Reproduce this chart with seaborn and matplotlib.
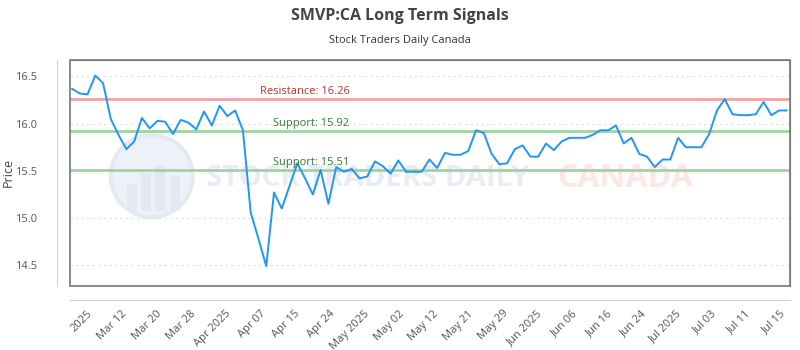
import numpy as np
import pandas as pd
import seaborn as sns
import matplotlib.pyplot as plt
from matplotlib.patches import Rectangle, Ellipse

# price, one value per trading day
price = [16.37, 16.32, 16.31, 16.51, 16.43, 16.05, 15.88, 15.73, 15.81, 16.06,
         15.95, 16.03, 16.02, 15.89, 16.04, 16.01, 15.94, 16.13, 15.98, 16.19,
         16.08, 16.14, 15.93, 15.06, 14.78, 14.49, 15.27, 15.10, 15.34, 15.58,
         15.42, 15.25, 15.51, 15.15, 15.54, 15.49, 15.52, 15.42, 15.44, 15.60,
         15.55, 15.47, 15.61, 15.49, 15.49, 15.49, 15.62, 15.53, 15.69, 15.67,
         15.67, 15.71, 15.93, 15.90, 15.68, 15.57, 15.58, 15.73, 15.77, 15.65,
         15.65, 15.79, 15.72, 15.81, 15.85, 15.85, 15.85, 15.88, 15.93, 15.93,
         15.98, 15.79, 15.85, 15.68, 15.65, 15.54, 15.62, 15.62, 15.85, 15.75,
         15.75, 15.75, 15.89, 16.14, 16.26, 16.10, 16.09, 16.09, 16.10, 16.23,
         16.09, 16.14, 16.14]

tick_labels = ['2025', 'Mar 12', 'Mar 20', 'Mar 28', 'Apr 2025', 'Apr 07', 'Apr 15',
               'Apr 24', 'May 2025', 'May 02', 'May 12', 'May 21', 'May 29', 'Jun 2025',
               'Jun 06', 'Jun 16', 'Jun 24', 'Jul 2025', 'Jul 03', 'Jul 11', 'Jul 15']

resistance = 16.26
supports = [15.92, 15.51]

df = pd.DataFrame({'day': np.arange(len(price)), 'price': price})

sns.set_style('white')
plt.rcParams['font.family'] = ['Open Sans', 'DejaVu Sans']

fig = plt.figure(figsize=(8, 3.5), dpi=100)
ax = fig.add_axes([0.088, 0.183, 0.8995, 0.647])

# dark frame around the plot, light axis lines pushed outward
# (set before the ticks: moving a spine resets the tick labels)
for side in ['top', 'right']:
    ax.spines[side].set_color('#777777')
for side in ['left', 'bottom']:
    ax.spines[side].set_position(('outward', 10))
    ax.spines[side].set_color('#d0d0d0')
ax.add_patch(Rectangle((0, 0), 1, 1, transform=ax.transAxes, fill=False,
                       edgecolor='#777777', lw=1.2, clip_on=False, zorder=5))

# watermark
ax.add_patch(Ellipse((0.113, 0.485), 0.114, 0.362, transform=ax.transAxes,
                     facecolor='#eef2f8', edgecolor='#e4eaf3', lw=3, zorder=0))
for bx, bh in [(0.085, 0.12), (0.105, 0.17), (0.125, 0.2), (0.145, 0.16)]:
    ax.add_patch(Rectangle((bx - 0.007, 0.33), 0.014, bh, transform=ax.transAxes,
                           facecolor='#e2e9f3', edgecolor='none', zorder=0))
ax.text(0.413, 0.475, 'STOCK TRADERS DAILY', transform=ax.transAxes, ha='center',
        va='center', fontsize=21, color='#e8edf5', fontweight='bold', zorder=0)
ax.text(0.771, 0.475, 'CANADA', transform=ax.transAxes, ha='center', va='center',
        fontsize=23, color='#fde6e6', fontweight='bold', zorder=0)

ax.axhline(resistance, color='#f3a3a3', lw=2, zorder=1)
for s in supports:
    ax.axhline(s, color='#9fd49f', lw=2, zorder=1)

sns.lineplot(data=df, x='day', y='price', ax=ax, color='#2196f3', lw=1.4, zorder=3)

ax.text(30, resistance + 0.02, f'Resistance: {resistance:.2f}', ha='center', va='bottom',
        fontsize=8, color='#b83232')
for s in supports:
    ax.text(30.8, s + 0.02, f'Support: {s:.2f}', ha='center', va='bottom',
            fontsize=8, color='#2e7d32')

ax.set_xlim(-0.2, 92.4)
ax.set_ylim(14.28, 16.68)
ax.set_yticks([14.5, 15.0, 15.5, 16.0, 16.5])
ax.set_yticklabels(['14.5', '15.0', '15.5', '16.0', '16.5'])
ax.set_xticks(np.linspace(1.9, 91.1, len(tick_labels)))
ax.set_xticklabels(tick_labels, rotation=45, ha='right', rotation_mode='anchor')
ax.tick_params(axis='both', length=0, labelsize=8, colors='#555555')
ax.tick_params(axis='x', pad=6)
ax.tick_params(axis='y', pad=14)
ax.grid(axis='y', color='#e0e0e0', ls=(0, (2, 3)), lw=0.8)
ax.set_xlabel('')
ax.set_ylabel('Price', fontsize=9, color='#444444')
ax.yaxis.set_label_coords(-0.077, 0.5)

fig.text(0.5, 0.955, 'SMVP:CA Long Term Signals', ha='center', va='center',
         fontsize=11.5, fontweight='bold', color='#444444')
fig.text(0.5, 0.885, 'Stock Traders Daily Canada', ha='center', va='center',
         fontsize=8, color='#333333')

fig.savefig('out.png', dpi=100)
